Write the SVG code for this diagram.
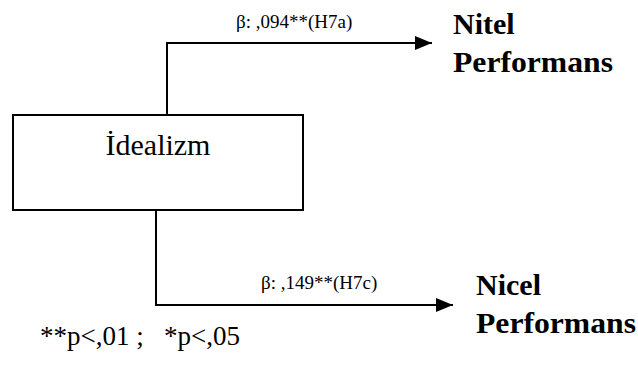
<svg xmlns="http://www.w3.org/2000/svg" width="638" height="365" viewBox="0 0 638 365">
  <style>
    text { font-family: "Liberation Serif", "DejaVu Serif", serif; fill: #000; }
    .line { fill: none; stroke: #000; stroke-width: 2; }
    .box { fill: #fff; stroke: #000; stroke-width: 2; }
    .lbl { font-size: 19px; }
    .main { font-size: 30px; }
    .target { font-size: 30px; font-weight: bold; }
    .note { font-size: 27px; }
  </style>
  <defs>
    <marker id="arrow" markerUnits="userSpaceOnUse" markerWidth="17" markerHeight="14" refX="17" refY="7" orient="auto">
      <path d="M0,0 L17,7 L0,14 Z" fill="#000"/>
    </marker>
  </defs>

  <!-- connectors -->
  <g id="connectors">
    <path class="line" d="M167,115 V43 H432" marker-end="url(#arrow)"/>
    <text class="lbl" x="236" y="28">β: ,094**(H7a)</text>
    <path class="line" d="M156,210 V305 H453" marker-end="url(#arrow)"/>
    <text class="lbl" x="261" y="289">β: ,149**(H7c)</text>
  </g>

  <!-- source node -->
  <g id="idealizm">
    <rect class="box" x="13" y="115" width="290" height="95"/>
    <text class="main" x="158" y="155" text-anchor="middle">İdealizm</text>
  </g>

  <!-- target nodes -->
  <g id="nitel-performans">
    <text class="target" x="453" y="34">Nitel</text>
    <text class="target" x="453" y="72" textLength="160" lengthAdjust="spacingAndGlyphs">Performans</text>
  </g>
  <g id="nicel-performans">
    <text class="target" x="476" y="295">Nicel</text>
    <text class="target" x="476" y="333" textLength="160" lengthAdjust="spacingAndGlyphs">Performans</text>
  </g>

  <!-- significance legend -->
  <text class="note" x="40" y="345" xml:space="preserve">**p&lt;,01 ;   *p&lt;,05</text>
</svg>
